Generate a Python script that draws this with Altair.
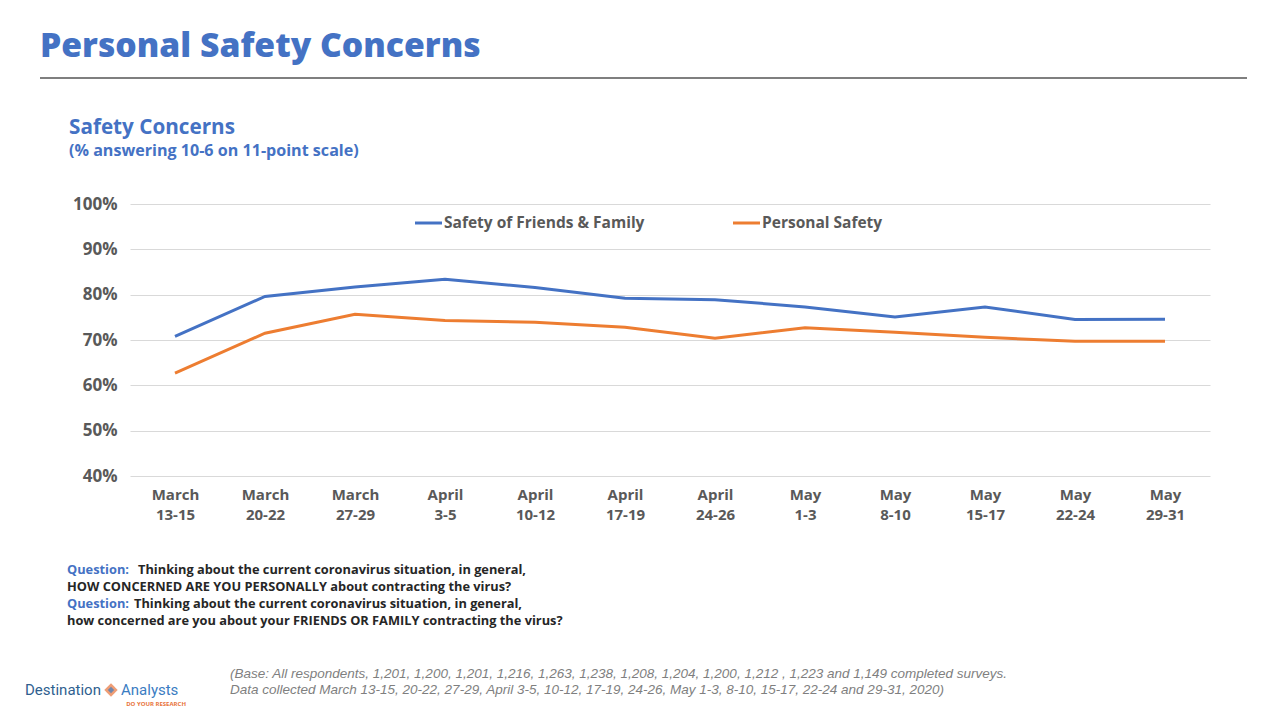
import altair as alt
import pandas as pd

# ---- data ----
periods = ["March 13-15", "March 20-22", "March 27-29", "April 3-5", "April 10-12",
           "April 17-19", "April 24-26", "May 1-3", "May 8-10", "May 15-17",
           "May 22-24", "May 29-31"]
friends_family = [0.708, 0.796, 0.817, 0.834, 0.816, 0.792, 0.789, 0.773, 0.751, 0.773, 0.745, 0.746]
personal = [0.627, 0.715, 0.757, 0.743, 0.739, 0.728, 0.704, 0.727, 0.717, 0.706, 0.697, 0.697]
series_names = ["Safety of Friends & Family", "Personal Safety"]
series_colors = ["#4472C4", "#ED7D31"]
y_ticks = [0.4, 0.5, 0.6, 0.7, 0.8, 0.9, 1.0]

title_text = "Personal Safety Concerns"
sub_title = "Safety Concerns"
sub_note = "(% answering 10-6 on 11-point scale)"
q_label = "Question:"
q_lines = [
    "Thinking about the current coronavirus situation, in general,",
    "HOW CONCERNED  ARE YOU PERSONALLY about contracting the virus?",
    "Thinking about the current coronavirus situation, in general,",
    "how concerned are you about your FRIENDS OR FAMILY contracting the virus?",
]
base_lines = [
    "(Base: All respondents, 1,201, 1,200, 1,201, 1,216, 1,263, 1,238, 1,208, 1,204, 1,200, 1,212 , 1,223 and 1,149 completed  surveys.",
    "Data collected March 13-15, 20-22, 27-29, April 3-5, 10-12, 17-19, 24-26, May 1-3, 8-10, 15-17, 22-24 and 29-31, 2020)",
]

df = pd.DataFrame({
    "period": periods * 2,
    "series": [series_names[0]] * len(periods) + [series_names[1]] * len(periods),
    "value": friends_family + personal,
})

FONT = "Open Sans"
BLUE = "#4472C4"
GRAY = "#595959"
OX, OY = 130, 204  # plot origin on the page


def txt(s, x, y, size, color, weight="bold", style="normal", align="left",
        baseline="middle", font=FONT):
    return alt.Chart(pd.DataFrame({"t": [s]})).mark_text(
        align=align, baseline=baseline, fontSize=size, font=font,
        fontWeight=weight, fontStyle=style, color=color
    ).encode(x=alt.value(x - OX), y=alt.value(y - OY), text="t:N")


lines = alt.Chart(df).mark_line(strokeWidth=3).encode(
    x=alt.X("period:N", sort=periods,
            scale=alt.Scale(type="point", padding=0.5),
            axis=alt.Axis(title=None, labelAngle=0, domain=False, ticks=False,
                          labelExpr="split(datum.label, ' ')",
                          labelFont=FONT, labelFontSize=15, labelFontWeight="bold",
                          labelColor=GRAY, labelLineHeight=20.5, labelPadding=11,
                          labelBaseline="top")),
    y=alt.Y("value:Q", scale=alt.Scale(domain=[0.4, 1.0], nice=False),
            axis=alt.Axis(title=None, values=y_ticks, format=".0%", domain=False,
                          ticks=False, gridColor="#D9D9D9", gridWidth=1,
                          labelFont=FONT, labelFontSize=17, labelFontWeight="bold",
                          labelColor=GRAY, labelPadding=13)),
    color=alt.Color("series:N", scale=alt.Scale(domain=series_names, range=series_colors),
                    legend=None),
)

layers = [lines]

# manual legend
legend_x = [415, 733]
for name, col, lx in zip(series_names, series_colors, legend_x):
    layers.append(alt.Chart(pd.DataFrame({"s": [name]})).mark_rule(
        color=col, strokeWidth=3).encode(
        x=alt.value(lx - OX), x2=alt.value(lx + 27 - OX), y=alt.value(223 - OY)))
    layers.append(txt(name, lx + 29, 223, 15.5, GRAY))

# header
layers.append(txt(title_text, 40, 57, 33.7, BLUE, weight=800, baseline="alphabetic"))
layers.append(alt.Chart(pd.DataFrame({"s": [1]})).mark_rule(
    color="#000000", strokeWidth=1.2).encode(
    x=alt.value(40 - OX), x2=alt.value(1247 - OX), y=alt.value(78 - OY)))
layers.append(txt(sub_title, 69, 128, 20.7, BLUE))
layers.append(txt(sub_note, 69, 151, 16.1, BLUE))

# questions
q_y = [570, 587, 604, 621]
QS = 12.8
layers.append(txt(q_label, 67, q_y[0], QS, BLUE))
layers.append(txt(q_lines[0], 138, q_y[0], QS, "#262626"))
layers.append(txt(q_lines[1], 67, q_y[1], QS, "#262626"))
layers.append(txt(q_label, 67, q_y[2], QS, BLUE))
layers.append(txt(q_lines[2], 134, q_y[2], QS, "#262626"))
layers.append(txt(q_lines[3], 67, q_y[3], QS, "#262626"))

# base note
layers.append(txt(base_lines[0], 230, 674, 13.5, "#7F7F7F", weight="normal",
                  style="italic", font="Liberation Sans"))
layers.append(txt(base_lines[1], 230, 690, 13.5, "#7F7F7F", weight="normal",
                  style="italic", font="Liberation Sans"))

# logo
layers.append(txt("Destination", 25, 690, 15, "#2F5F8F", weight="normal", font="Roboto"))
layers.append(alt.Chart(pd.DataFrame({"s": [1]})).mark_point(
    shape="diamond", filled=True, color="#E8743B", size=180).encode(
    x=alt.value(111 - OX), y=alt.value(690 - OY)))
layers.append(alt.Chart(pd.DataFrame({"s": [1]})).mark_point(
    shape="diamond", filled=True, color="#3A7CC2", size=40).encode(
    x=alt.value(111 - OX), y=alt.value(690 - OY)))
layers.append(txt("Analysts", 121, 690, 15, "#3A7CC2", weight="normal", font="Roboto"))
layers.append(txt("DO YOUR RESEARCH", 186, 704, 6, "#E8743B", align="right"))

chart = alt.layer(*layers).properties(
    width=1080, height=272,
    padding={"left": 122, "top": 196, "right": 62, "bottom": 236},
    autosize=alt.AutoSizeParams(type="none"),
    background="white",
).configure_view(stroke=None)

chart.save("out.html", embed_options={"renderer": "svg", "actions": False})
